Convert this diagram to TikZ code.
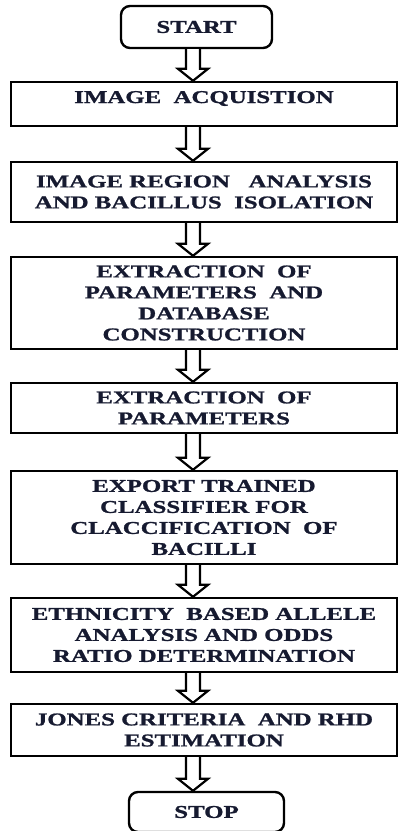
\documentclass[tikz,border=0pt]{standalone}
\usepackage{fontspec}
\newfontfamily\flowfont{Liberation Serif}[FakeStretch=1.38, BoldFont={Liberation Serif Bold}, BoldFeatures={FakeBold=1.2}]
\usepackage{tikz}
\usetikzlibrary{calc}
\definecolor{InkNavy}{RGB}{22, 26, 48}

\begin{document}
\begin{tikzpicture}[x=1pt, y=1pt,
            stepbox/.style={draw=black, line width=2.4pt, fill=white, minimum width=386pt, inner sep=0pt, align=center, text=InkNavy, font=\flowfont\bfseries\fontsize{18}{21}\selectfont},
            endbox/.style={stepbox, rounded corners=9pt, minimum width=151pt},
            flowarrow/.style={draw=black, line width=2.2pt, fill=white, line join=miter,
                to path={let \p1=(\tikztostart), \p2=(\tikztotarget) in
                    (\x1-7pt,\y1) -- (\x1-7pt,\y2+12pt) -- (\x1-15pt,\y2+12pt) -- (\x1,\y2)
                    -- (\x1+15pt,\y2+12pt) -- (\x1+7pt,\y2+12pt) -- (\x1+7pt,\y1)}}
        ]
        \useasboundingbox (0,0) rectangle (399,-831);

        % The Steps
        \node[endbox, minimum height=42pt] (start) at (196.5,-27) {START};
        \node[stepbox, minimum height=44pt, text height=12pt, text depth=14pt] (b1) at (204,-104) {IMAGE\ \ ACQUISTION};
        \node[stepbox, minimum height=60pt] (b2) at (204,-192) {IMAGE REGION\ \ \ ANALYSIS\\AND BACILLUS\ \ ISOLATION};
        \node[stepbox, minimum height=92pt] (b3) at (204,-303) {EXTRACTION\ \ OF\\PARAMETERS\ \ AND\\DATABASE\\CONSTRUCTION};
        \node[stepbox, minimum height=50pt] (b4) at (204,-408) {EXTRACTION\ \ OF\\PARAMETERS};
        \node[stepbox, minimum height=93pt] (b5) at (204,-517.5) {EXPORT TRAINED\\CLASSIFIER FOR\\CLACCIFICATION\ \ OF\\BACILLI};
        \node[stepbox, minimum height=74pt] (b6) at (204,-635) {ETHNICITY\ \ BASED ALLELE\\ANALYSIS AND ODDS\\RATIO DETERMINATION};
        \node[stepbox, minimum height=52pt] (b7) at (204,-730) {JONES CRITERIA\ \ AND RHD\\ESTIMATION};
        \node[endbox, minimum height=40pt, minimum width=155pt] (stop) at (206.5,-812) {STOP};

        % Arrows
        \coordinate (axis) at (193,0);
        \foreach \a/\b in {start/b1, b1/b2, b2/b3, b3/b4, b4/b5, b5/b6, b6/b7, b7/stop}
            \draw[flowarrow] (\a.south -| axis) to (\b.north -| axis);

        \end{tikzpicture}
\end{document}
